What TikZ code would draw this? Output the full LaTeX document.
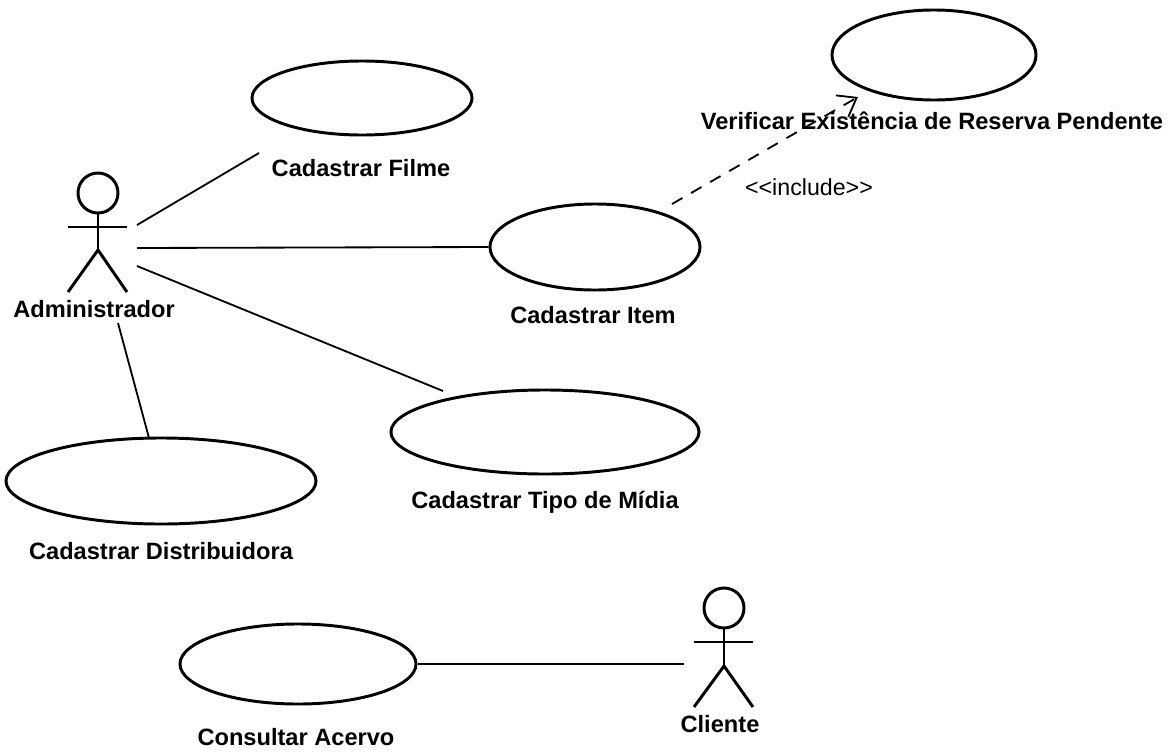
\documentclass[tikz,border=0pt]{standalone}
\usepackage{fontspec}
\setmainfont{Liberation Sans}
\usetikzlibrary{arrows.meta,shapes.geometric}

\begin{document}
\begin{tikzpicture}[x=0.025cm,y=-0.025cm]
\tikzstyle{usecase}=[draw,ellipse,line width=2.1pt,inner sep=0pt,minimum width=#1];
\tikzstyle{caption}=[font=\bfseries\fontsize{16.8}{20}\selectfont,inner sep=0pt];
\tikzstyle{head}=[draw,circle,line width=2.1pt,inner sep=0pt,minimum size=1cm];
\tikzstyle{limb}=[line width=2.1pt];
\tikzstyle{assoc}=[line width=1.3pt];
\useasboundingbox (0,0) rectangle (1172,751);
% casos de uso
\node (UCFilme) [usecase=5.5cm,minimum height=1.85cm] at (362,98) {};
\node (UCVerificar) [usecase=5.1cm,minimum height=2.25cm] at (934,55) {};
\node (UCItem) [usecase=5.25cm,minimum height=2.15cm] at (595,247) {};
\node (UCTipo) [usecase=7.7cm,minimum height=2.1cm] at (545,432) {};
\node (UCDistribuidora) [usecase=7.75cm,minimum height=2.15cm] at (161,481) {};
\node (UCAcervo) [usecase=5.9cm,minimum height=2cm] at (298,664) {};
% atores
\node (AdminHead) [head] at (98,193) {};
\coordinate (AdminHip) at (98,250);
\coordinate (AdminArmL) at (68,227);
\coordinate (AdminArmR) at (127,227);
\coordinate (AdminFootL) at (68,292);
\coordinate (AdminFootR) at (127,292);
\draw[limb] (AdminHead) -- (AdminHip);
\draw[limb] (AdminArmL) -- (AdminArmR);
\draw[limb] (AdminFootL) -- (AdminHip) -- (AdminFootR);
\node (ClienteHead) [head] at (724,608) {};
\coordinate (ClienteHip) at (724,666);
\coordinate (ClienteArmL) at (694,642);
\coordinate (ClienteArmR) at (753,642);
\coordinate (ClienteFootL) at (694,707);
\coordinate (ClienteFootR) at (753,707);
\draw[limb] (ClienteHead) -- (ClienteHip);
\draw[limb] (ClienteArmL) -- (ClienteArmR);
\draw[limb] (ClienteFootL) -- (ClienteHip) -- (ClienteFootR);
% pontas das associacoes
\coordinate (A1) at (137,225);
\coordinate (A2) at (137,248);
\coordinate (A3) at (137,266);
\coordinate (A4) at (118,323);
\coordinate (F1) at (259,153);
\coordinate (T1) at (443,391);
\coordinate (D1) at (149,438);
\coordinate (C1) at (684,664);
\coordinate (I1) at (672,204);
\coordinate (V1) at (858,97);
\draw[assoc] (A1) -- (F1);
\draw[assoc] (A2) -- (UCItem.west);
\draw[assoc] (A3) -- (T1);
\draw[assoc] (A4) -- (D1);
\draw[assoc] (UCAcervo.east) -- (C1);
\draw[assoc,dash pattern=on 0.3cm off 0.25cm,-{Straight Barb[length=0.42cm,width=0.62cm]}] (I1) -- (V1);
% textos
\node (LFilme) [caption] at (361,168) {Cadastrar Filme};
\node (LVerificar) [caption] at (932,121) {Verificar Existência de Reserva Pendente};
\node (LItem) [caption] at (593,315) {Cadastrar Item};
\node (LTipo) [caption] at (545,502) {Cadastrar Tipo de Mídia};
\node (LDistribuidora) [caption] at (161,551) {Cadastrar Distribuidora};
\node (LAcervo) [caption] at (296,737) {Consultar Acervo};
\node (LAdmin) [caption] at (94,309) {Administrador};
\node (LCliente) [caption] at (720,724) {Cliente};
\node (LInclude) [font=\fontsize{16.5}{20}\selectfont,inner sep=0pt] at (809,187) {<{}<include>{}>};
\end{tikzpicture}
\end{document}
